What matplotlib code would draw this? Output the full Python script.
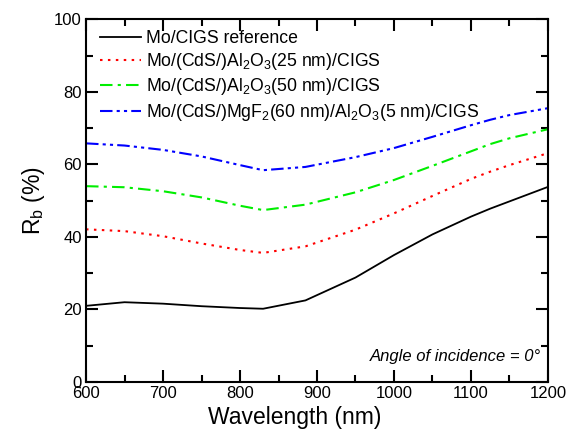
import matplotlib
matplotlib.use("Agg")
import matplotlib.pyplot as plt
from matplotlib.ticker import MultipleLocator

plt.rcParams['font.family'] = ['Liberation Sans', 'DejaVu Sans']
plt.rcParams['mathtext.fontset'] = 'custom'
plt.rcParams['mathtext.rm'] = 'Liberation Sans'
plt.rcParams['mathtext.it'] = 'Liberation Sans:italic'

wavelength = [600, 650, 700, 750, 800, 830, 885, 950, 1000, 1050, 1100, 1125, 1150, 1200]
r_ref = [21.0, 22.0, 21.6, 20.9, 20.4, 20.2, 22.5, 28.8, 35.0, 40.7, 45.6, 47.8, 49.8, 53.8]
r_al25 = [42.1, 41.6, 40.2, 38.2, 36.4, 35.6, 37.4, 42.0, 46.5, 51.3, 56.0, 58.0, 59.8, 63.1]
r_al50 = [54.0, 53.7, 52.6, 50.9, 48.6, 47.4, 48.9, 52.3, 55.7, 59.6, 63.6, 65.6, 67.2, 69.7]
r_mgf2 = [65.8, 65.2, 64.0, 62.2, 59.8, 58.4, 59.3, 62.0, 64.5, 67.6, 70.8, 72.3, 73.6, 75.5]

labels = ["Mo/CIGS reference",
          r"Mo/(CdS/)Al$_\mathregular{2}$O$_\mathregular{3}$(25 nm)/CIGS",
          r"Mo/(CdS/)Al$_\mathregular{2}$O$_\mathregular{3}$(50 nm)/CIGS",
          r"Mo/(CdS/)MgF$_\mathregular{2}$(60 nm)/Al$_\mathregular{2}$O$_\mathregular{3}$(5 nm)/CIGS"]

fig = plt.figure(figsize=(5.75, 4.4), dpi=100)
ax = fig.add_axes([0.1496, 0.1318, 0.8034, 0.8243])

ax.plot(wavelength, r_ref, color='black', lw=1.3, ls='-', label=labels[0])
ax.plot(wavelength, r_al25, color='#ff0000', lw=1.5, ls=(0, (1.2, 2.6)), label=labels[1])
ax.plot(wavelength, r_al50, color='#00ee00', lw=1.5, ls=(0, (6, 2.5, 1.5, 2.5)), label=labels[2])
ax.plot(wavelength, r_mgf2, color='#0000ff', lw=1.5, ls=(0, (6, 2, 1.5, 2, 1.5, 2)), label=labels[3])

ax.set_xlim(600, 1200)
ax.set_ylim(0, 100)
ax.xaxis.set_major_locator(MultipleLocator(100))
ax.xaxis.set_minor_locator(MultipleLocator(50))
ax.yaxis.set_major_locator(MultipleLocator(20))
ax.yaxis.set_minor_locator(MultipleLocator(10))
ax.tick_params(which='both', direction='in', top=True, right=True, width=1.5, labelsize=12)
ax.tick_params(which='major', length=8.5, pad=3)
ax.tick_params(which='minor', length=5)
for s in ax.spines.values():
    s.set_linewidth(1.5)

ax.set_xlabel("Wavelength (nm)", fontsize=16.5)
ax.xaxis.set_label_coords(0.452, -0.065)
ax.set_ylabel(r"R$_\mathregular{b}$ (%)", fontsize=16.5, labelpad=5)

leg = ax.legend(loc='upper left', frameon=False, fontsize=12.7, handlelength=2.3,
                handletextpad=0.3, labelspacing=0.24, borderaxespad=0.0,
                bbox_to_anchor=(0.015, 0.99))

ax.text(0.985, 0.07, "Angle of incidence = 0°", transform=ax.transAxes,
        ha='right', va='center', fontsize=12, style='italic')

fig.savefig("out.png", dpi=100)
